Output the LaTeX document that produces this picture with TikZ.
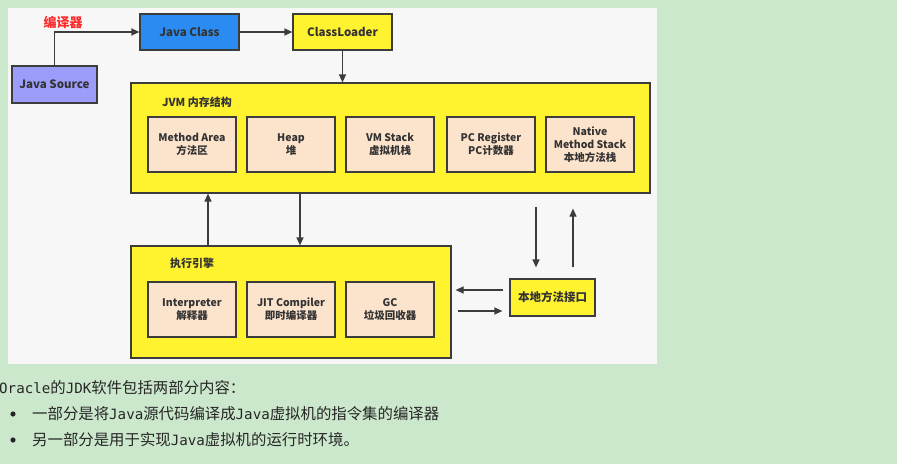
\documentclass[tikz,border=0pt]{standalone}
\usepackage{fontspec}
\setmainfont{Noto Sans CJK SC}
\newfontfamily\monofont{DejaVu Sans Mono}[Scale=0.92]
\usetikzlibrary{arrows.meta}

\definecolor{bggreen}{HTML}{CCE8CC}
\definecolor{panel}{HTML}{F7F7F7}
\definecolor{linegray}{HTML}{3C3C3C}
\definecolor{textgray}{HTML}{333333}
\definecolor{srcblue}{HTML}{9C9CFA}
\definecolor{classblue}{HTML}{2A8CF2}
\definecolor{jvmyellow}{HTML}{FFF22E}
\definecolor{peach}{HTML}{FCE3CC}
\definecolor{compred}{HTML}{FF2A2A}

\tikzset{
  box/.style={draw=linegray, line width=1.2pt, inner sep=0pt, align=center,
    text=textgray, font=\bfseries\fontsize{11.5}{13}\selectfont},
  membox/.style={box, fill=peach, minimum width=88pt, minimum height=55pt,
    font=\bfseries\fontsize{10.5}{13}\selectfont},
  arr/.style={draw=linegray, line width=1.2pt, -{Triangle[length=8pt,width=7pt]}},
  txt/.style={anchor=west, inner sep=0pt, text=black!85,
    font=\fontsize{15.4}{17}\selectfont}
}

\begin{document}
\begin{tikzpicture}[x=1pt,y=-1pt]
    \useasboundingbox (0,0) rectangle (897,464);
    \fill[bggreen] (0,0) rectangle (897,464);
    \fill[panel] (8,8) rectangle (657,364);

    % compilacion y carga
    \node[box,fill=srcblue,minimum width=85pt,minimum height=37pt] (src) at (54.5,84.5) {Java Source};
    \node[box,fill=classblue,minimum width=99pt,minimum height=36pt] (jclass) at (189.5,32) {Java Class};
    \node[box,fill=jvmyellow,minimum width=99pt,minimum height=36pt] (loader) at (342.5,32) {ClassLoader};
    \node[text=compred,font=\bfseries\fontsize{13}{15}\selectfont,inner sep=0pt] (compiler) at (63,22) {编译器};

    \draw[arr] (src.north) |- (jclass.west);
    \draw[arr] (jclass.east) -- (loader.west);

    % caja JVM
    \node[box,fill=jvmyellow,minimum width=519pt,minimum height=110pt] (jvm) at (390.5,138) {};
    \node[anchor=west,inner sep=0pt,text=textgray,font=\bfseries\fontsize{11}{13}\selectfont] (jvmlabel) at (162,102) {JVM 内存结构};
    \node[membox] (area) at (192,144.5) {Method Area\\方法区};
    \node[membox] (heap) at (291,144.5) {Heap\\堆};
    \node[membox] (stack) at (390,144.5) {VM Stack\\虚拟机栈};
    \node[membox] (pc) at (491,144.5) {PC Register\\PC计数器};
    \node[membox] (native) at (590,144.5) {Native\\Method Stack\\本地方法栈};

    \draw[arr] (loader.south) -- (loader.south |- jvm.north);

    % motor de ejecucion
    \node[box,fill=jvmyellow,minimum width=320pt,minimum height=112pt] (engine) at (291,302) {};
    \node[anchor=west,inner sep=0pt,text=textgray,font=\bfseries\fontsize{11}{13}\selectfont] (enginelabel) at (170,263) {执行引擎};
    \node[membox] (interp) at (192,309.5) {Interpreter\\解释器};
    \node[membox] (jit) at (291,309.5) {JIT Compiler\\即时编译器};
    \node[membox] (gc) at (390,309.5) {GC\\垃圾回收器};

    \draw[arr] ([xshift=-83pt]engine.north) -- ([xshift=-83pt]engine.north |- jvm.south);
    \draw[arr] ([xshift=9pt]engine.north |- jvm.south) -- ([xshift=9pt]engine.north);

    % interfaz nativa
    \node[box,fill=jvmyellow,minimum width=85pt,minimum height=37pt] (jni) at (552.5,297.5) {本地方法接口};

    \draw[arr,shorten <=13pt,shorten >=11pt] ([xshift=-16.5pt]jni.north |- jvm.south) -- ([xshift=-16.5pt]jni.north);
    \draw[arr,shorten <=11pt,shorten >=15pt] ([xshift=20.5pt]jni.north) -- ([xshift=20.5pt]jni.north |- jvm.south);
    \draw[arr,shorten <=6pt,shorten >=4pt] ([yshift=7.5pt]jni.west) -- ([yshift=7.5pt]jni.west -| engine.east);
    \draw[arr,shorten <=6pt,shorten >=7pt] ([yshift=-13.5pt]jni.west -| engine.east) -- ([yshift=-13.5pt]jni.west);

    % texto inferior
    \node[txt] (intro) at (-1,388) {{\monofont Oracle}的{\monofont JDK}软件包括两部分内容：};
    \fill[black!85] (13,414) circle (2.6pt);
    \node[txt] (partone) at (32,414) {一部分是将{\monofont Java}源代码编译成{\monofont Java}虚拟机的指令集的编译器};
    \fill[black!85] (13,440) circle (2.6pt);
    \node[txt] (parttwo) at (32,440) {另一部分是用于实现{\monofont Java}虚拟机的运行时环境。};
  \end{tikzpicture}
\end{document}
